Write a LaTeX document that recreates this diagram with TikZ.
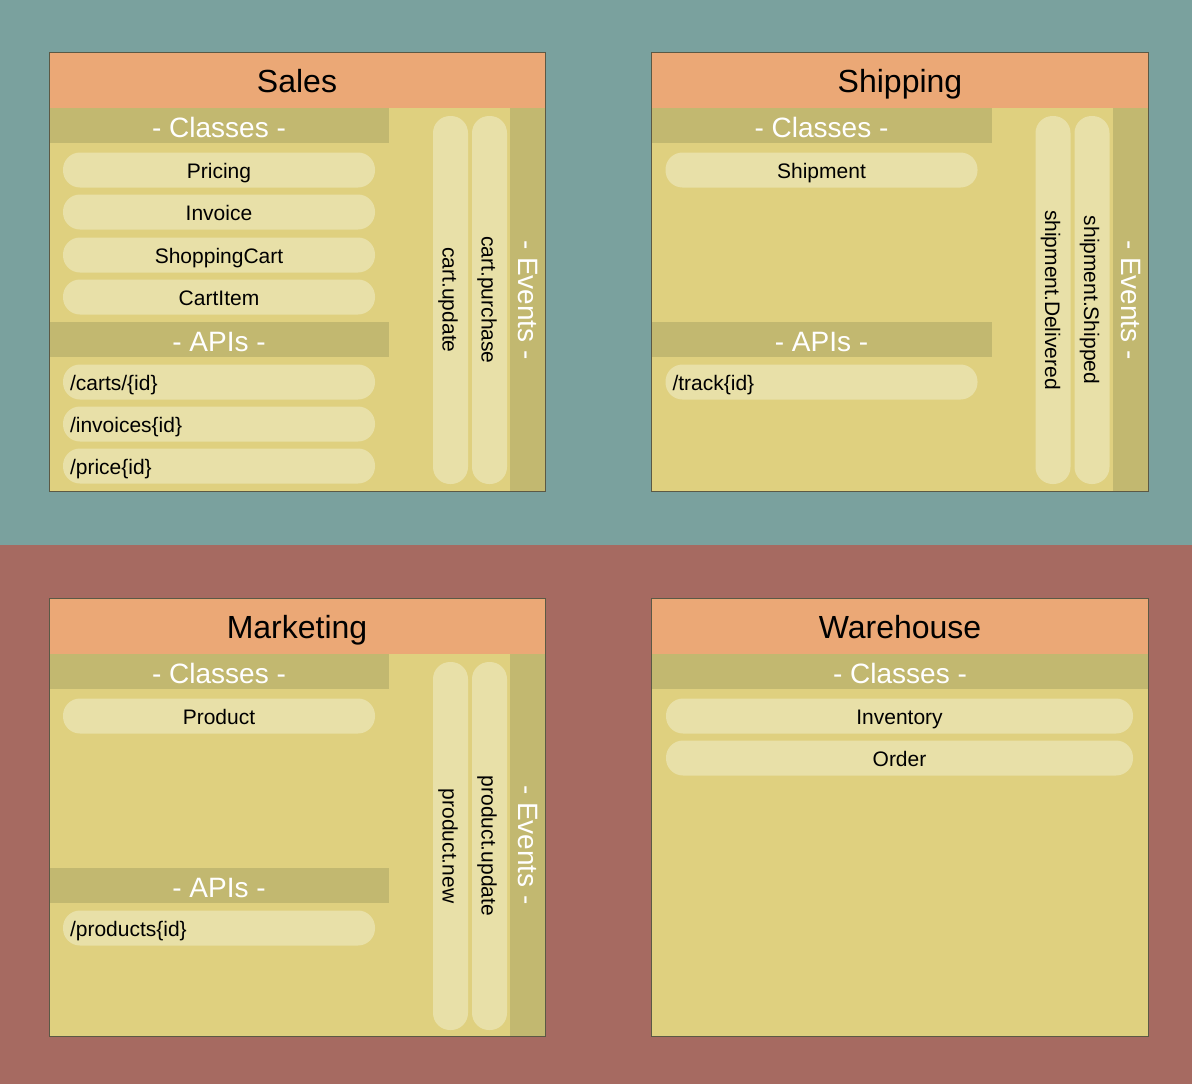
\documentclass[tikz,border=0pt]{standalone}
\usepackage{fontspec}
\setmainfont{Liberation Sans}
\definecolor{tealbg}{HTML}{7AA19E}
\definecolor{redbg}{HTML}{A66A61}
\definecolor{headcol}{HTML}{EBA876}
\definecolor{bodycol}{HTML}{DFD07F}
\definecolor{barcol}{HTML}{C2B870}
\definecolor{pillcol}{HTML}{E8E0A8}
\definecolor{edgecol}{HTML}{5B5945}

\begin{document}
\begin{tikzpicture}[x=1pt,y=-1pt,
  title/.style={font=\fontsize{32}{36}\selectfont,text height=24pt,text depth=0pt,inner sep=0pt},
  section/.style={text=white,font=\fontsize{28}{32}\selectfont,text height=22pt,text depth=0pt,inner sep=0pt},
  pill/.style={fill=pillcol,rounded corners=17pt,minimum width=312pt,minimum height=35pt,inner sep=0pt,text height=16pt,text depth=0pt,font=\fontsize{21}{24}\selectfont},
  api/.style={pill,text width=298pt,align=left},
  event/.style={pill,rotate=-90,minimum width=368pt}]

\useasboundingbox (0,0) rectangle (1192,1084);
\fill[tealbg] (0,0) rectangle (1192,545);
\fill[redbg] (0,545) rectangle (1192,1084);

% Sales
\fill[bodycol] (49,52) rectangle (545,491);
\fill[headcol] (49,52) rectangle (545,108);
\fill[barcol] (49,108) rectangle (389,143);
\fill[barcol] (49,322) rectangle (389,357);
\fill[barcol] (510,108) rectangle (545,491);
\draw[edgecol] (49,52) rectangle (545,491);

\node[title] (sales) at (297,80) {Sales};
\node[section] (sales-cls) at (219,126) {- Classes -};
\node[pill] (pricing) at (219,170) {Pricing};
\node[pill] (invoice) at (219,212) {Invoice};
\node[pill] (cart) at (219,255) {ShoppingCart};
\node[pill] (cartitem) at (219,297) {CartItem};
\node[section] (sales-api) at (219,340) {- APIs -};
\node[api] (carts-id) at (219,382) {/carts/\{id\}};
\node[api] (invoices-id) at (219,424) {/invoices\{id\}};
\node[api] (price-id) at (219,466) {/price\{id\}};
\node[section,rotate=-90] (sales-ev) at (529.5,300) {- Events -};
\node[event] (cart-update) at (450.5,300) {cart.update};
\node[event] (cart-purchase) at (489.5,300) {cart.purchase};

% Shipping
\fill[bodycol] (651,52) rectangle (1148,491);
\fill[headcol] (651,52) rectangle (1148,108);
\fill[barcol] (651,108) rectangle (992,143);
\fill[barcol] (651,322) rectangle (992,357);
\fill[barcol] (1113,108) rectangle (1148,491);
\draw[edgecol] (651,52) rectangle (1148,491);

\node[title] (shipping) at (900,80) {Shipping};
\node[section] (ship-cls) at (821.5,126) {- Classes -};
\node[pill] (shipment) at (821.5,170) {Shipment};
\node[section] (ship-api) at (821.5,340) {- APIs -};
\node[api] (track-id) at (821.5,382) {/track\{id\}};
\node[section,rotate=-90] (ship-ev) at (1132.5,300) {- Events -};
\node[event] (delivered) at (1053,300) {shipment.Delivered};
\node[event] (shipped) at (1092,300) {shipment.Shipped};

% Marketing
\fill[bodycol] (49,598) rectangle (545,1036);
\fill[headcol] (49,598) rectangle (545,654);
\fill[barcol] (49,654) rectangle (389,689);
\fill[barcol] (49,868) rectangle (389,903);
\fill[barcol] (510,654) rectangle (545,1036);
\draw[edgecol] (49,598) rectangle (545,1036);

\node[title] (marketing) at (297,626) {Marketing};
\node[section] (mkt-cls) at (219,672) {- Classes -};
\node[pill] (product) at (219,716) {Product};
\node[section] (mkt-api) at (219,886) {- APIs -};
\node[api] (products-id) at (219,928) {/products\{id\}};
\node[section,rotate=-90] (mkt-ev) at (529.5,845) {- Events -};
\node[event] (product-new) at (450.5,846) {product.new};
\node[event] (product-update) at (489.5,846) {product.update};

% Warehouse
\fill[bodycol] (651,598) rectangle (1148,1036);
\fill[headcol] (651,598) rectangle (1148,654);
\fill[barcol] (651,654) rectangle (1148,689);
\draw[edgecol] (651,598) rectangle (1148,1036);

\node[title] (warehouse) at (900,626) {Warehouse};
\node[section] (wh-cls) at (900,672) {- Classes -};
\node[pill,minimum width=467pt] (inventory) at (899.5,716) {Inventory};
\node[pill,minimum width=467pt] (order) at (899.5,758) {Order};

\end{tikzpicture}
\end{document}
